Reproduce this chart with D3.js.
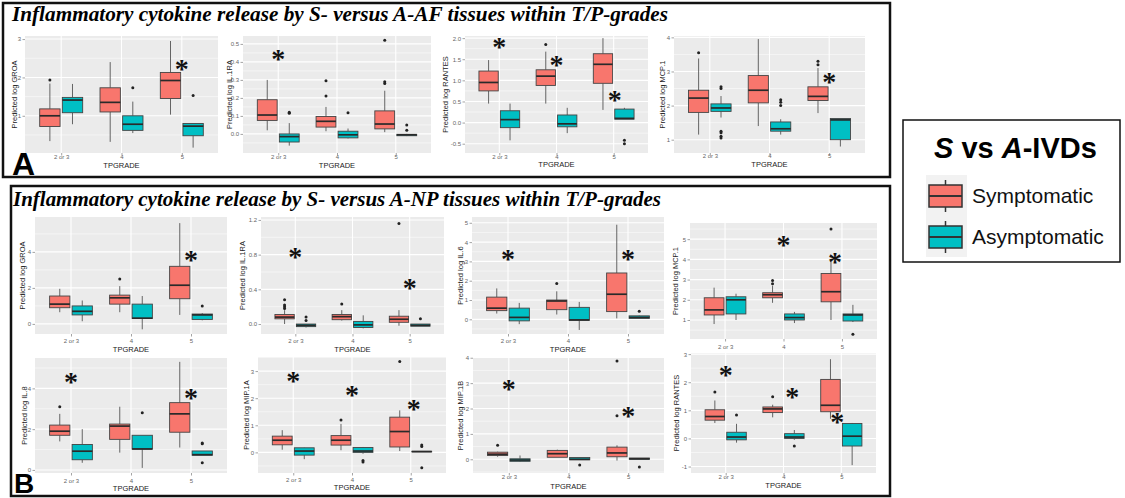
<!DOCTYPE html>
<html>
<head>
<meta charset="utf-8">
<script src="https://cdn.jsdelivr.net/npm/d3@7"></script>
<style>
  body { margin: 0; background: #fff; }
</style>
</head>
<body>
<svg id="fig" width="1125" height="498" style="font-family: 'Liberation Sans', Arial, sans-serif"></svg>
<script>
// ---- categories & groups ----
const categories = ["2 or 3", "4", "5"];
const groups = ["Symptomatic", "Asymptomatic"];

// Box statistics per box: [lower whisker, Q1, median, Q3, upper whisker, outliers]
// Order: S 2or3, A 2or3, S 4, A 4, S 5, A 5

// AF tissues
const afGROA = [
  [0.34, 0.72, 1.0, 1.18, 1.84, [1.93]],
  [0.78, 1.08, 1.41, 1.48, 1.83, []],
  [0.32, 1.1, 1.35, 1.73, 2.4, []],
  [0.55, 0.62, 0.78, 1.0, 1.37, [1.73]],
  [1.03, 1.45, 1.92, 2.13, 2.95, []],
  [0.17, 0.48, 0.73, 0.8, 0.8, [1.53]]
];
const afIL1RA = [
  [0.02, 0.075, 0.105, 0.19, 0.30, []],
  [-0.065, -0.045, -0.015, 0.0, 0.06, [0.115, 0.12]],
  [0.015, 0.038, 0.07, 0.097, 0.15, [0.21, 0.295]],
  [-0.025, -0.022, -0.005, 0.015, 0.03, [0.118]],
  [0.01, 0.028, 0.055, 0.128, 0.24, [0.28, 0.29, 0.52]],
  [-0.012, -0.01, -0.005, -0.002, 0.0, [0.02, 0.05]]
];
const afRANTES = [
  [0.45, 0.75, 0.95, 1.22, 1.48, []],
  [-0.42, -0.12, 0.07, 0.28, 0.45, []],
  [0.45, 0.88, 1.1, 1.25, 1.68, [1.85]],
  [-0.25, -0.1, -0.03, 0.18, 0.35, []],
  [0.3, 0.93, 1.38, 1.63, 2.0, []],
  [0.08, 0.08, 0.1, 0.32, 0.35, [-0.42, -0.5]]
];
const afMCP1 = [
  [1.15, 1.8, 2.22, 2.45, 3.38, [3.55]],
  [1.65, 1.83, 1.93, 2.05, 2.28, [2.5, 2.55, 1.05, 1.1, 1.2, 1.25]],
  [1.4, 2.08, 2.45, 2.88, 3.95, []],
  [1.15, 1.25, 1.32, 1.52, 1.6, [2.0, 2.1, 2.17]],
  [1.78, 2.15, 2.27, 2.55, 3.1, [3.2, 3.3]],
  [0.8, 1.0, 1.58, 1.62, 1.62, []]
];

// NP tissues
const npGROA = [
  [0.65, 0.9, 1.1, 1.55, 1.95, []],
  [0.15, 0.5, 0.7, 1.0, 1.3, []],
  [0.65, 1.1, 1.45, 1.6, 2.1, [2.5]],
  [-0.3, 0.3, 0.32, 1.1, 1.55, []],
  [0.5, 1.4, 2.15, 3.2, 5.6, []],
  [0.2, 0.25, 0.5, 0.55, 0.6, [1.0]]
];
const npIL1RA = [
  [0.0, 0.06, 0.08, 0.11, 0.16, [0.18, 0.2, 0.22, 0.28]],
  [-0.04, -0.03, -0.015, 0.0, 0.0, [0.04, 0.08]],
  [0.04, 0.05, 0.085, 0.11, 0.16, [0.23]],
  [-0.05, -0.04, -0.01, 0.03, 0.1, []],
  [-0.02, 0.02, 0.055, 0.09, 0.16, [1.16]],
  [-0.025, -0.025, -0.015, 0.0, 0.0, [0.06]]
];
const npIL6 = [
  [0.3, 0.45, 0.58, 1.15, 1.6, []],
  [-0.25, -0.08, 0.1, 0.58, 0.85, []],
  [0.25, 0.5, 0.95, 1.0, 1.45, [1.85]],
  [-0.55, -0.05, -0.03, 0.62, 0.9, []],
  [0.05, 0.4, 1.3, 2.4, 4.9, []],
  [0.05, 0.05, 0.1, 0.18, 0.2, [0.42]]
];
const npMCP1 = [
  [0.8, 1.25, 1.5, 2.1, 2.6, []],
  [1.0, 1.3, 2.0, 2.15, 2.3, []],
  [1.85, 2.1, 2.25, 2.35, 2.7, [2.8, 2.95]],
  [0.85, 1.0, 1.12, 1.3, 1.4, []],
  [1.0, 1.9, 2.4, 3.3, 3.9, [5.5]],
  [0.9, 0.95, 1.25, 1.3, 1.75, [0.3]]
];
const npIL8 = [
  [1.4, 1.7, 1.9, 2.2, 2.75, [3.1]],
  [0.35, 0.5, 0.92, 1.25, 2.0, []],
  [0.85, 1.5, 2.15, 2.25, 3.1, []],
  [0.1, 1.02, 1.03, 1.7, 1.7, [2.8]],
  [1.1, 1.85, 2.75, 3.3, 5.3, []],
  [0.72, 0.72, 0.75, 0.93, 0.93, [1.28, 1.32, 0.35]]
];
const npMIP1A = [
  [0.1, 0.28, 0.45, 0.6, 0.82, []],
  [-0.25, -0.1, 0.05, 0.17, 0.18, []],
  [0.08, 0.27, 0.45, 0.62, 1.05, [1.2]],
  [-0.05, 0.0, 0.05, 0.18, 0.2, [-0.3, -0.35]],
  [0.05, 0.2, 0.77, 1.3, 1.55, [3.35]],
  [0.02, 0.02, 0.03, 0.04, 0.04, [0.22, 0.27, -0.57]]
];
const npMIP1B = [
  [0.1, 0.15, 0.2, 0.28, 0.3, [0.55]],
  [-0.1, -0.08, -0.03, 0.02, 0.15, []],
  [0.08, 0.08, 0.22, 0.35, 0.38, []],
  [-0.02, -0.02, 0.0, 0.07, 0.08, [-0.22]],
  [-0.05, 0.1, 0.25, 0.48, 0.55, [1.72, 3.87]],
  [0.0, 0.0, 0.02, 0.05, 0.05, [-0.3]]
];
const npRANTES = [
  [0.55, 0.65, 0.78, 1.02, 1.35, [1.65]],
  [-0.15, -0.05, 0.05, 0.22, 0.52, [0.83]],
  [0.75, 0.92, 1.05, 1.12, 1.2, [1.48]],
  [-0.05, 0.0, 0.05, 0.17, 0.3, [-0.27]],
  [0.7, 0.95, 1.18, 2.1, 2.82, []],
  [-0.95, -0.27, 0.08, 0.53, 0.55, []]
];

// ---- y tick labels ----
const afGROATicks = ["1", "2", "3"];
const afIL1RATicks = ["0.0", "0.1", "0.2", "0.3", "0.4", "0.5"];
const afRANTESTicks = ["-0.5", "0.0", "0.5", "1.0", "1.5", "2.0"];
const afMCP1Ticks = ["1", "2", "3", "4"];
const npGROATicks = ["0", "2", "4"];
const npIL1RATicks = ["0.0", "0.4", "0.8", "1.2"];
const npIL6Ticks = ["0", "1", "2", "3", "4", "5"];
const npMCP1Ticks = ["1", "2", "3", "4", "5"];
const npIL8Ticks = ["0", "2", "4"];
const npMIP1ATicks = ["0", "1", "2", "3"];
const npMIP1BTicks = ["0", "1", "2", "3", "4"];
const npRANTESTicks = ["-1", "0", "1", "2", "3"];

// ---- significance marks: [category, value, shift in category steps] ----
const afGROAStars = [["5", 2.32, 0]];
const afIL1RAStars = [["2 or 3", 0.44, 0]];
const afRANTESStars = [["2 or 3", 1.88, 0], ["4", 1.45, 0], ["5", 0.62, 0.02]];
const afMCP1Stars = [["5", 2.8, 0]];
const npGROAStars = [["5", 3.78, 0]];
const npIL1RAStars = [["2 or 3", 0.815, 0], ["5", 0.46, 0]];
const npIL6Stars = [["2 or 3", 3.33, 0], ["5", 3.33, 0]];
const npMCP1Stars = [["4", 4.93, 0], ["5", 4.05, -0.12]];
const npIL8Stars = [["2 or 3", 4.52, 0], ["5", 3.71, 0]];
const npMIP1AStars = [["2 or 3", 2.79, 0], ["4", 2.26, 0], ["5", 1.75, 0.05]];
const npMIP1BStars = [["2 or 3", 2.93, 0], ["5", 1.87, 0]];
const npRANTESStars = [["2 or 3", 2.4, 0], ["4", 1.62, 0.15], ["5", 0.71, -0.07]];

const fills = { Symptomatic: "#F8766D", Asymptomatic: "#00BFC4" };

// ---- panel placement ----
const panels = [
  { data: afGROA, ticks: afGROATicks, stars: afGROAStars, label: "Predicted log GROA",
    x0: 25, x1: 218, y0: 36, y1: 153, dom: [0.03, 3.08], ytx: 14, xlabY: 157, xtitY: 165 },
  { data: afIL1RA, ticks: afIL1RATicks, stars: afIL1RAStars, label: "Predicted log IL.1RA",
    x0: 243, x1: 431, y0: 36, y1: 153, dom: [-0.106, 0.544], ytx: 229, xlabY: 157, xtitY: 165 },
  { data: afRANTES, ticks: afRANTESTicks, stars: afRANTESStars, label: "Predicted log RANTES",
    x0: 465, x1: 648, y0: 36, y1: 153, dom: [-0.72, 2.05], ytx: 445, xlabY: 157, xtitY: 164 },
  { data: afMCP1, ticks: afMCP1Ticks, stars: afMCP1Stars, label: "Predicted log MCP.1",
    x0: 674, x1: 865, y0: 36, y1: 153, dom: [0.61, 4.04], ytx: 662, xlabY: 156, xtitY: 164 },

  { data: npGROA, ticks: npGROATicks, stars: npGROAStars, label: "Predicted log GROA",
    x0: 35, x1: 227, y0: 217, y1: 334, dom: [-0.56, 5.94], ytx: 22, xlabY: 340.5, xtitY: 349 },
  { data: npIL1RA, ticks: npIL1RATicks, stars: npIL1RAStars, label: "Predicted log IL.1RA",
    x0: 261, x1: 444, y0: 217, y1: 334, dom: [-0.115, 1.234], ytx: 242, xlabY: 341, xtitY: 349 },
  { data: npIL6, ticks: npIL6Ticks, stars: npIL6Stars, label: "Predicted log IL.6",
    x0: 472, x1: 664, y0: 217, y1: 334, dom: [-0.76, 5.3], ytx: 460, xlabY: 340.5, xtitY: 349 },
  { data: npMCP1, ticks: npMCP1Ticks, stars: npMCP1Stars, label: "Predicted log MCP.1",
    x0: 690, x1: 877, y0: 223, y1: 339, dom: [0.06, 5.8], ytx: 675, xlabY: 346.5, xtitY: null },

  { data: npIL8, ticks: npIL8Ticks, stars: npIL8Stars, label: "Predicted log IL.8",
    x0: 35, x1: 227, y0: 358, y1: 473, dom: [-0.15, 5.49], ytx: 24, xlabY: 481, xtitY: 488 },
  { data: npMIP1A, ticks: npMIP1ATicks, stars: npMIP1AStars, label: "Predicted log MIP.1A",
    x0: 258, x1: 446, y0: 357, y1: 473, dom: [-0.76, 3.52], ytx: 246, xlabY: 480, xtitY: 487 },
  { data: npMIP1B, ticks: npMIP1BTicks, stars: npMIP1BStars, label: "Predicted log MIP.1B",
    x0: 473, x1: 664, y0: 358, y1: 473, dom: [-0.54, 3.99], ytx: 460, xlabY: 477, xtitY: 486 },
  { data: npRANTES, ticks: npRANTESTicks, stars: npRANTESStars, label: "Predicted log RANTES",
    x0: 691, x1: 876, y0: 353, y1: 473, dom: [-1.23, 3.04], ytx: 676, xlabY: 477, xtitY: 485 }
];

const sansFont = '"Liberation Sans", Arial, sans-serif';
const serifFont = '"Liberation Serif", "Times New Roman", serif';

const svg = d3.select("#fig");
svg.append("rect").attr("width", 1125).attr("height", 498).attr("fill", "#fff");

// ---- frames ----
svg.append("rect").attr("x", 3).attr("y", 3).attr("width", 887).attr("height", 174)
  .attr("fill", "none").attr("stroke", "#111").attr("stroke-width", 2.5);
svg.append("rect").attr("x", 11).attr("y", 186).attr("width", 879).attr("height", 310)
  .attr("fill", "none").attr("stroke", "#111").attr("stroke-width", 2.5);

svg.append("text").attr("x", 12).attr("y", 21)
  .style("font-family", serifFont).attr("font-weight", "bold").attr("font-style", "italic")
  .attr("font-size", 21).attr("fill", "#000")
  .attr("textLength", 656).attr("lengthAdjust", "spacingAndGlyphs")
  .text("Inflammatory cytokine release by S- versus A-AF tissues within T/P-grades");
svg.append("text").attr("x", 13).attr("y", 206)
  .style("font-family", serifFont).attr("font-weight", "bold").attr("font-style", "italic")
  .attr("font-size", 21).attr("fill", "#000")
  .attr("textLength", 648).attr("lengthAdjust", "spacingAndGlyphs")
  .text("Inflammatory cytokine release by S- versus A-NP tissues within T/P-grades");

// ---- one ggplot-style boxplot panel ----
function drawPanel(p) {
  const g = svg.append("g");
  const x = d3.scalePoint().domain(categories).range([p.x0, p.x1]).padding(0.6);
  const step = x.step();
  const dodge = d3.scaleBand().domain(groups)
    .range([-0.375 * step, 0.375 * step]).paddingInner(0.1).paddingOuter(0.05);
  const y = d3.scaleLinear().domain(p.dom).range([p.y1, p.y0]);
  const tickVals = p.ticks.map(Number);

  g.append("rect").attr("x", p.x0).attr("y", p.y0)
    .attr("width", p.x1 - p.x0).attr("height", p.y1 - p.y0).attr("fill", "#EBEBEB");

  // minor horizontal grid
  const half = (tickVals[1] - tickVals[0]) / 2;
  const minor = [];
  for (let v = tickVals[0] - half; v <= p.dom[1]; v += 2 * half) {
    if (v >= p.dom[0]) minor.push(v);
  }
  g.selectAll(null).data(minor).enter().append("line")
    .attr("x1", p.x0).attr("x2", p.x1).attr("y1", d => y(d)).attr("y2", d => y(d))
    .attr("stroke", "#fff").attr("stroke-width", 0.5);
  // major grid
  g.selectAll(null).data(tickVals.filter(v => v >= p.dom[0] && v <= p.dom[1])).enter().append("line")
    .attr("x1", p.x0).attr("x2", p.x1).attr("y1", d => y(d)).attr("y2", d => y(d))
    .attr("stroke", "#fff").attr("stroke-width", 1.1);
  g.selectAll(null).data(categories).enter().append("line")
    .attr("x1", d => x(d)).attr("x2", d => x(d)).attr("y1", p.y0).attr("y2", p.y1)
    .attr("stroke", "#fff").attr("stroke-width", 1.1);

  // boxes
  p.data.forEach((b, i) => {
    const cat = categories[Math.floor(i / 2)];
    const grp = groups[i % 2];
    const left = x(cat) + dodge(grp);
    const w = dodge.bandwidth();
    const cx = left + w / 2;
    const [lo, q1, med, q3, hi, outs] = b;
    g.append("line").attr("x1", cx).attr("x2", cx).attr("y1", y(hi)).attr("y2", y(q3))
      .attr("stroke", "#555").attr("stroke-width", 0.9);
    g.append("line").attr("x1", cx).attr("x2", cx).attr("y1", y(q1)).attr("y2", y(lo))
      .attr("stroke", "#555").attr("stroke-width", 0.9);
    g.append("rect").attr("x", left).attr("y", y(q3))
      .attr("width", w).attr("height", Math.max(0.5, y(q1) - y(q3)))
      .attr("fill", fills[grp]).attr("stroke", "#444").attr("stroke-width", 0.9);
    g.append("line").attr("x1", left).attr("x2", left + w).attr("y1", y(med)).attr("y2", y(med))
      .attr("stroke", "#2a2a2a").attr("stroke-width", 1.7);
    g.selectAll(null).data(outs).enter().append("circle")
      .attr("cx", cx).attr("cy", d => y(d)).attr("r", 1.5).attr("fill", "#222");
  });

  // axes
  const ya = d3.axisLeft(y).tickValues(tickVals).tickFormat((d, i) => p.ticks[i])
    .tickSize(2.5).tickPadding(1.5);
  const yg = g.append("g").attr("transform", `translate(${p.x0},0)`).call(ya);
  yg.select(".domain").remove();
  yg.selectAll("line").attr("stroke", "#666").attr("stroke-width", 0.6);
  yg.selectAll("text").attr("font-size", 6).attr("fill", "#666").style("font-family", sansFont);

  const xa = d3.axisBottom(x).tickSize(2.5).tickPadding(p.xlabY - p.y1 - 4.6);
  const xg = g.append("g").attr("transform", `translate(0,${p.y1})`).call(xa);
  xg.select(".domain").remove();
  xg.selectAll("line").attr("stroke", "#666").attr("stroke-width", 0.6);
  xg.selectAll("text").attr("font-size", 6).attr("fill", "#666").style("font-family", sansFont);

  if (p.xtitY !== null) {
    g.append("text").attr("x", (p.x0 + p.x1) / 2).attr("y", p.xtitY).attr("dy", "0.35em")
      .attr("text-anchor", "middle").attr("font-size", 7.5).attr("fill", "#222")
      .text("TPGRADE");
  }
  g.append("text")
    .attr("transform", `translate(${p.ytx},${(p.y0 + p.y1) / 2}) rotate(-90)`)
    .attr("dy", "0.35em").attr("text-anchor", "middle")
    .attr("font-size", 7.5).attr("fill", "#222").text(p.label);

  // significance asterisks
  g.selectAll(null).data(p.stars).enter().append("text")
    .attr("x", d => x(d[0]) + d[2] * step).attr("y", d => y(d[1]) + 13)
    .attr("text-anchor", "middle")
    .style("font-family", serifFont).attr("font-weight", "bold")
    .attr("font-size", 28).attr("fill", "#111").text("*");
}

panels.forEach(drawPanel);

// ---- panel letters ----
svg.append("text").attr("x", 12).attr("y", 175).attr("font-size", 32)
  .attr("font-weight", "bold").attr("fill", "#000").text("A");
svg.append("text").attr("x", 14).attr("y", 493).attr("font-size", 28)
  .attr("font-weight", "bold").attr("fill", "#000").text("B");

// ---- legend ----
const leg = svg.append("g");
leg.append("rect").attr("x", 903).attr("y", 120).attr("width", 217).attr("height", 142)
  .attr("fill", "#fff").attr("stroke", "#111").attr("stroke-width", 1.5);
const lt = leg.append("text").attr("x", 934).attr("y", 158)
  .attr("font-size", 29).attr("font-weight", "bold").attr("fill", "#000");
lt.append("tspan").attr("font-style", "italic").text("S");
lt.append("tspan").text(" vs ");
lt.append("tspan").attr("font-style", "italic").text("A");
lt.append("tspan").text("-IVDs");

leg.append("rect").attr("x", 926).attr("y", 175).attr("width", 41).attr("height", 82)
  .attr("fill", "#F2F2F2");
const keyY = d3.scaleBand().domain(groups).range([175, 257]);
groups.forEach(grp => {
  const top = keyY(grp);
  const kx = 929, kw = 33, cx = kx + kw / 2;
  leg.append("line").attr("x1", cx).attr("x2", cx).attr("y1", top + 5).attr("y2", top + 37)
    .attr("stroke", "#333").attr("stroke-width", 1.5);
  leg.append("rect").attr("x", kx).attr("y", top + 10).attr("width", kw).attr("height", 22)
    .attr("fill", fills[grp]).attr("stroke", "#333").attr("stroke-width", 1.5);
  leg.append("line").attr("x1", kx).attr("x2", kx + kw).attr("y1", top + 21).attr("y2", top + 21)
    .attr("stroke", "#333").attr("stroke-width", 2);
  leg.append("text").attr("x", 972).attr("y", top + 28).attr("font-size", 21)
    .attr("fill", "#111").text(grp);
});
</script>
</body>
</html>
